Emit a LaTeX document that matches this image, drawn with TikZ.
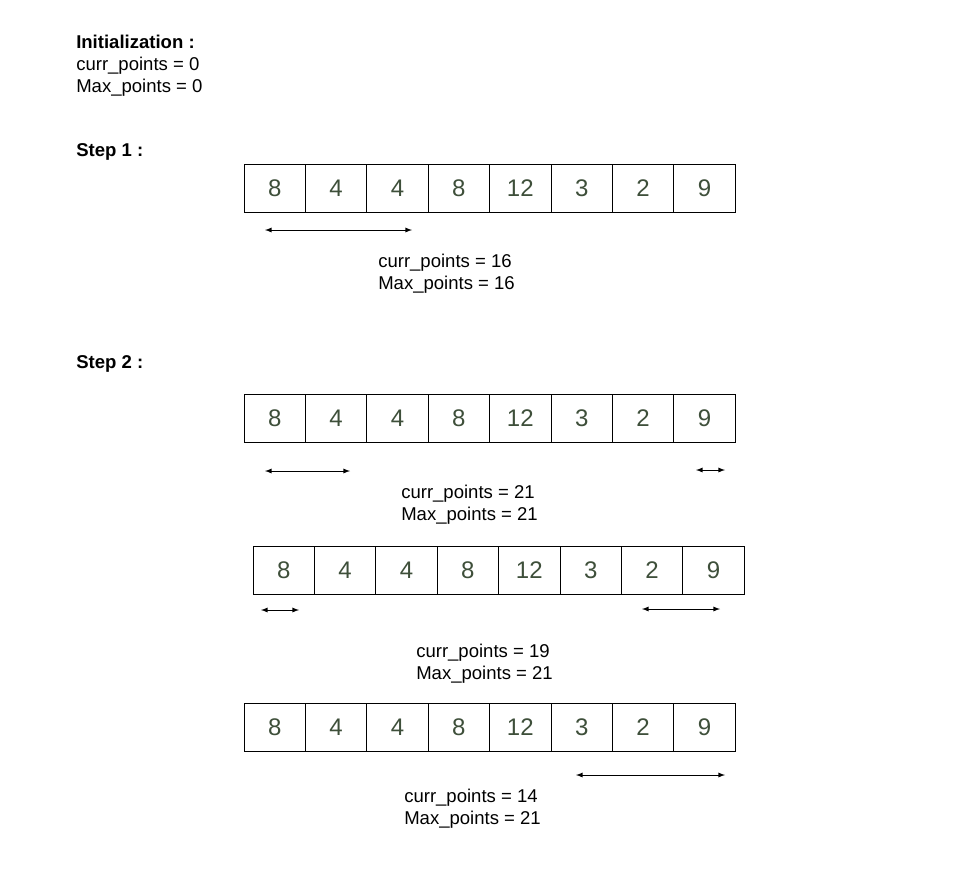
\documentclass[tikz,border=0pt]{standalone}
\usepackage{fontspec}
\setmainfont{Liberation Sans}
\usetikzlibrary{arrows}
\definecolor{numgreen}{HTML}{3E4F3A}

\begin{document}
\begin{tikzpicture}[x=0.75pt, y=-0.75pt, >=latex,
    cell/.style={draw, line width=0.6pt, inner sep=0pt, minimum width=46pt, minimum height=36pt,
        font=\fontsize{18}{20}\selectfont, text=numgreen},
    txt/.style={anchor=base west, inner sep=0pt, font=\fontsize{13.9}{16}\selectfont},
    span/.style={<->, line width=0.7pt}]
        \useasboundingbox [fill=white] (0, 0) rectangle (967, 869);
        % Initialization
        \node [txt, font=\fontsize{13.9}{16}\selectfont\bfseries] (init) at (76, 48) {Initialization :};
        \node [txt] (initc) at (76, 70) {curr\_points = 0};
        \node [txt] (initm) at (76, 92) {Max\_points = 0};
        % Step 1
        \node [txt, font=\fontsize{13.9}{16}\selectfont\bfseries] (stepone) at (76, 156) {Step 1 :};
        \foreach \v [count=\i] in {8,4,4,8,12,3,2,9}
            \node [cell] (a\i) at ({244+61.4*(\i-0.5)}, 188) {\v};
        \coordinate (sa) at (265, 230);
        \coordinate (sb) at (412, 230);
        \draw [span] (sa) -- (sb);
        \node [txt] (ca) at (378, 267) {curr\_points = 16};
        \node [txt] (ma) at (378, 289) {Max\_points = 16};
        % Step 2
        \node [txt, font=\fontsize{13.9}{16}\selectfont\bfseries] (steptwo) at (76, 368) {Step 2 :};
        \foreach \v [count=\i] in {8,4,4,8,12,3,2,9}
            \node [cell] (b\i) at ({244+61.4*(\i-0.5)}, 418) {\v};
        \coordinate (tba) at (265, 471);
        \coordinate (tbb) at (350, 471);
        \coordinate (tbc) at (696, 470);
        \coordinate (tbd) at (725, 470);
        \draw [span] (tba) -- (tbb);
        \draw [span] (tbc) -- (tbd);
        \node [txt] (cb) at (401, 498) {curr\_points = 21};
        \node [txt] (mb) at (401, 520) {Max\_points = 21};
        % second try
        \foreach \v [count=\i] in {8,4,4,8,12,3,2,9}
            \node [cell] (c\i) at ({253+61.4*(\i-0.5)}, 570) {\v};
        \coordinate (tca) at (261, 610);
        \coordinate (tcb) at (299, 610);
        \coordinate (tcc) at (642, 609);
        \coordinate (tcd) at (720, 609);
        \draw [span] (tca) -- (tcb);
        \draw [span] (tcc) -- (tcd);
        \node [txt] (cc) at (416, 657) {curr\_points = 19};
        \node [txt] (mc) at (416, 679) {Max\_points = 21};
        % third try
        \foreach \v [count=\i] in {8,4,4,8,12,3,2,9}
            \node [cell] (d\i) at ({244+61.4*(\i-0.5)}, 727) {\v};
        \coordinate (tda) at (576, 775);
        \coordinate (tdb) at (725, 775);
        \draw [span] (tda) -- (tdb);
        \node [txt] (cd) at (404, 802) {curr\_points = 14};
        \node [txt] (md) at (404, 824) {Max\_points = 21};
\end{tikzpicture}
\end{document}
